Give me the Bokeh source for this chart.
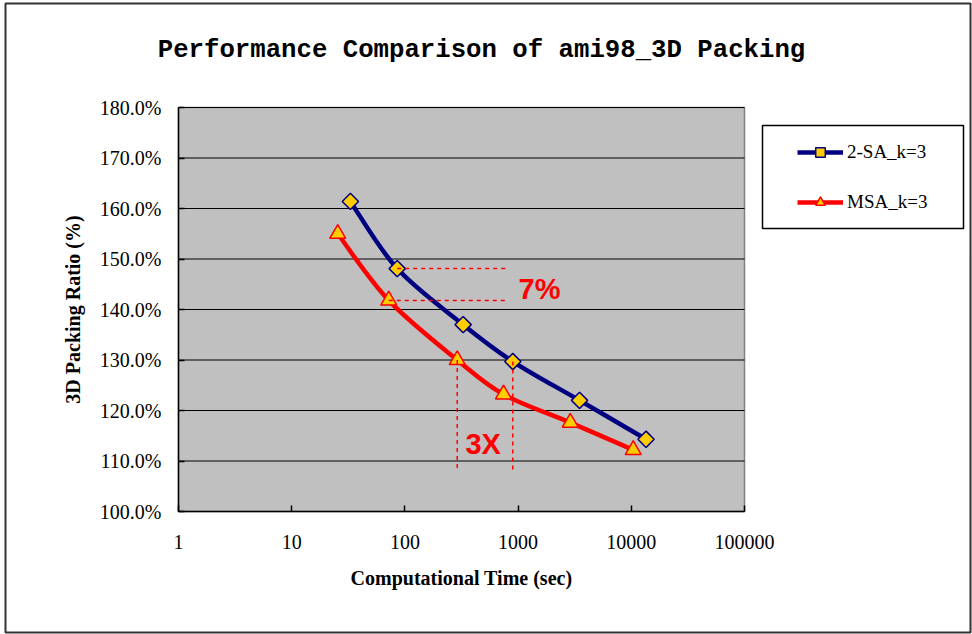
import math
from bokeh.plotting import figure
from bokeh.models import FixedTicker, Legend, LegendItem, Label, BoxAnnotation
from bokeh.embed import file_html
from bokeh.resources import INLINE

# ---- data ----
title_text = "Performance Comparison of ami98_3D Packing"
x_axis_title = "Computational Time (sec)"
y_axis_title = "3D Packing Ratio (%)"
x_ticks = [1, 10, 100, 1000, 10000, 100000]
x_tick_labels = ["1", "10", "100", "1000", "10000", "100000"]
y_ticks = [100, 110, 120, 130, 140, 150, 160, 170, 180]
y_tick_labels = ["100.0%", "110.0%", "120.0%", "130.0%", "140.0%", "150.0%", "160.0%", "170.0%", "180.0%"]

series_names = ["2-SA_k=3", "MSA_k=3"]
sa_time = [33, 85.5, 327, 898, 3490, 13500]
sa_ratio = [161.4, 148.1, 137.0, 129.7, 122.0, 114.3]
msa_time = [25.5, 72, 290, 743, 2890, 10400]
msa_ratio = [155.0, 141.8, 130.0, 123.2, 117.6, 112.2]

# annotation values
gap_end_time = 823
gap_bottom_ratio = 107.8

SERIF = "Liberation Serif"
SANS = "Liberation Sans"
MONO = "Liberation Mono"

# ---- layout (pixels) ----
W, H = 972, 634
PL, PR, PT, PB = 178, 744, 107, 511   # plot-area edges on the canvas

x_lo, x_hi = math.log10(x_ticks[0]), math.log10(x_ticks[-1])
y_lo, y_hi = y_ticks[0], y_ticks[-1]
px_dec = (PR - PL) / (x_hi - x_lo)
px_unit = (PB - PT) / (y_hi - y_lo)
xr = (10 ** (x_lo - PL / px_dec), 10 ** (x_hi + (W - PR) / px_dec))
yr = (y_lo - (H - PB) / px_unit, y_hi + PT / px_unit)


def smooth_segments(xs, ys):
    """Bezier control points (Excel-like smoothing) in log-x / linear-y space."""
    lx = [math.log10(v) for v in xs]
    n = len(xs)
    x0, y0, x1, y1, cx0, cy0, cx1, cy1 = ([] for _ in range(8))
    for i in range(n - 1):
        ip = max(i - 1, 0)
        inn = min(i + 2, n - 1)
        c0x = lx[i] + (lx[i + 1] - lx[ip]) / 6.0
        c0y = ys[i] + (ys[i + 1] - ys[ip]) / 6.0
        c1x = lx[i + 1] - (lx[inn] - lx[i]) / 6.0
        c1y = ys[i + 1] - (ys[inn] - ys[i]) / 6.0
        x0.append(xs[i]); y0.append(ys[i])
        x1.append(xs[i + 1]); y1.append(ys[i + 1])
        cx0.append(10 ** c0x); cy0.append(c0y)
        cx1.append(10 ** c1x); cy1.append(c1y)
    return dict(x0=x0, y0=y0, x1=x1, y1=y1, cx0=cx0, cy0=cy0, cx1=cx1, cy1=cy1)


p = figure(
    width=W, height=H, title=None,
    x_axis_type="log",
    x_range=xr, y_range=yr,
    output_backend="svg", toolbar_location=None,
    min_border=0,
)
p.background_fill_color = "white"
p.border_fill_color = "white"
p.outline_line_color = None
p.xgrid.visible = False
p.ygrid.visible = False

# grey plot area
p.add_layout(BoxAnnotation(left=x_ticks[0], right=x_ticks[-1], bottom=y_lo, top=y_hi,
                           fill_color="#C0C0C0", fill_alpha=1,
                           line_color="#808080", line_alpha=1, line_width=1.5,
                           level="image"))

# horizontal grid lines from the y ticks
p.segment(x0=[x_ticks[0]] * len(y_ticks), x1=[x_ticks[-1]] * len(y_ticks),
          y0=y_ticks, y1=y_ticks, line_color="black", line_width=1, level="underlay")

# axes placed at the plot-area edges
p.xaxis.fixed_location = y_lo
p.yaxis.fixed_location = x_ticks[0]
p.xaxis.bounds = (x_ticks[0], x_ticks[-1])
p.yaxis.bounds = (y_lo, y_hi)

for ax in (p.xaxis[0], p.yaxis[0]):
    ax.axis_line_color = "black"
    ax.axis_line_width = 1.5
    ax.major_tick_in = 6
    ax.major_tick_out = 0
    ax.major_tick_line_color = "black"
    ax.major_tick_line_width = 1.5
    ax.minor_tick_line_color = None
    ax.major_label_text_font = SERIF
    ax.major_label_text_font_size = "20px"
    ax.major_label_text_color = "black"
    ax.axis_label_text_font = SERIF
    ax.axis_label_text_font_style = "bold"
    ax.axis_label_text_font_size = "20px"
    ax.axis_label_text_color = "black"

p.xaxis.ticker = FixedTicker(ticks=x_ticks)
p.xaxis.major_label_overrides = {t: l for t, l in zip(x_ticks, x_tick_labels)}
p.xaxis.axis_label = x_axis_title
p.xaxis.major_label_standoff = 23
p.xaxis.axis_label_standoff = 15

p.yaxis.ticker = FixedTicker(ticks=y_ticks)
p.yaxis.major_label_overrides = {t: l for t, l in zip(y_ticks, y_tick_labels)}
p.yaxis.axis_label = y_axis_title
p.yaxis.major_label_standoff = 17
p.yaxis.axis_label_standoff = 13

# series
blue = "#000080"
red = "#FF0000"
gold = "#FFCC00"

b1 = p.bezier(line_color=blue, line_width=4.5, **smooth_segments(sa_time, sa_ratio))
s1 = p.scatter(sa_time, sa_ratio, marker="square", angle=math.pi / 4, size=11.5,
               fill_color=gold, line_color=blue, line_width=1.5)
b2 = p.bezier(line_color=red, line_width=4.5, **smooth_segments(msa_time, msa_ratio))
s2 = p.scatter(msa_time, msa_ratio, marker="triangle", size=16,
               fill_color=gold, line_color=red, line_width=1.5)

# annotation dashed lines
p.segment(
    x0=[sa_time[1], msa_time[1], msa_time[2], sa_time[3]],
    y0=[sa_ratio[1], msa_ratio[1], msa_ratio[2], sa_ratio[3]],
    x1=[gap_end_time, gap_end_time, msa_time[2], sa_time[3]],
    y1=[sa_ratio[1], msa_ratio[1], gap_bottom_ratio, gap_bottom_ratio],
    line_color=red, line_width=1.5, line_dash="4 4",
)

p.add_layout(Label(x=1010, y=144.1, text="7%", text_font=SANS, text_font_style="bold",
                   text_font_size="29px", text_color=red, text_baseline="middle"))
p.add_layout(Label(x=343, y=113.4, text="3X", text_font=SANS, text_font_style="bold",
                   text_font_size="29px", text_color=red, text_baseline="middle"))

# title
p.add_layout(Label(x=481, y=H - 50, x_units="screen", y_units="screen", text=title_text,
                   text_font=MONO, text_font_style="bold", text_font_size="25.7px",
                   text_color="black", text_align="center", text_baseline="middle"))

# legend
legend = Legend(
    items=[LegendItem(label=series_names[0], renderers=[b1, s1]),
           LegendItem(label=series_names[1], renderers=[b2, s2])],
    location=(797, H - 214),
    border_line_alpha=0, background_fill_alpha=0,
    padding=0, margin=0,
    glyph_width=46, glyph_height=24, label_height=24, spacing=26,
    label_standoff=4,
    label_text_font=SERIF, label_text_font_size="19px", label_text_color="black",
)
p.add_layout(legend)

p.add_layout(BoxAnnotation(left=762, right=963, top=125, bottom=228,
                           left_units="canvas", right_units="canvas",
                           top_units="canvas", bottom_units="canvas",
                           fill_alpha=0, line_color="black", line_alpha=1, line_width=1.5))
p.add_layout(BoxAnnotation(left=5, right=970, top=3, bottom=632,
                           left_units="canvas", right_units="canvas",
                           top_units="canvas", bottom_units="canvas",
                           fill_alpha=0, line_color="#333333", line_alpha=1, line_width=2))

open("out.html", "w").write(file_html(p, INLINE))
